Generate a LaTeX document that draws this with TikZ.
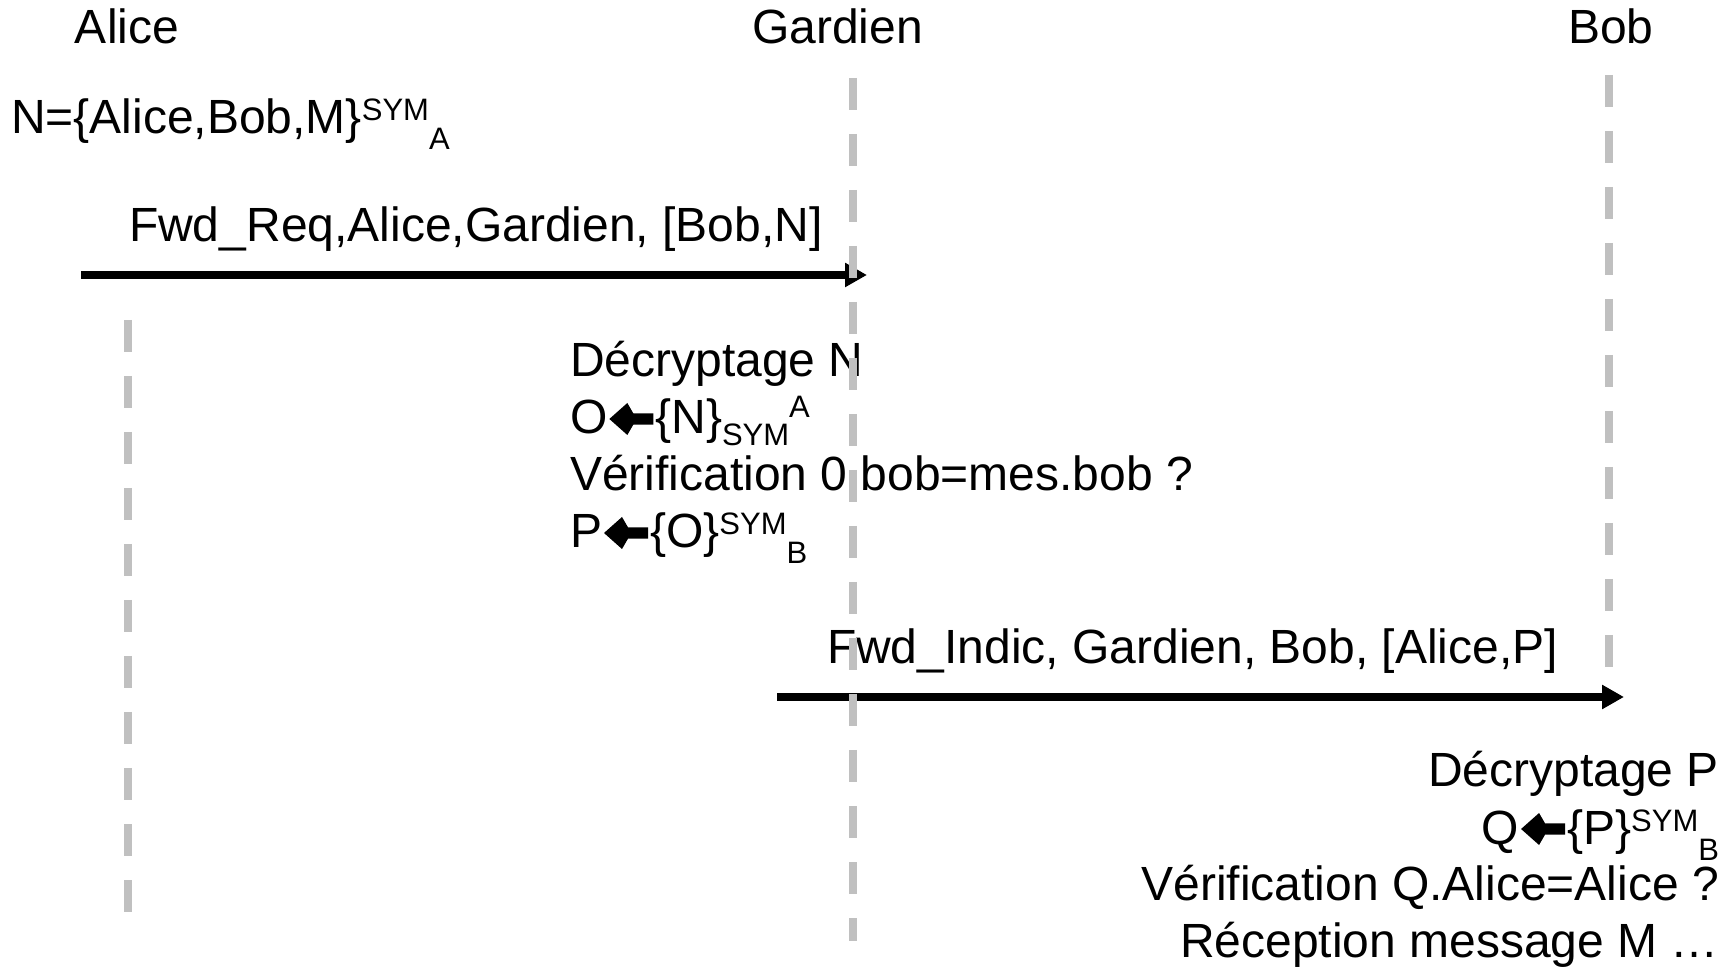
\documentclass[tikz,border=0pt]{standalone}
\usepackage{fontspec}
\setmainfont{Liberation Sans}
\usetikzlibrary{arrows.meta}
\definecolor{lifegray}{RGB}{192,192,192}
% thick black left arrow used as an assignment sign
\newcommand{\getsarrow}{\hspace{1pt}\tikz[baseline=0pt]\fill[black] (0pt,7.5pt) -- (9pt,15.5pt) -- (12pt,10.3pt) -- (22pt,10.3pt) -- (22pt,4.7pt) -- (12pt,4.7pt) -- (9pt,-0.5pt) -- cycle;\hspace{1pt}}
\newcommand{\smallfont}{\fontsize{15.5pt}{18pt}\selectfont}
\newcommand{\hiscript}[2][6.5pt]{\raisebox{#1}{\smallfont #2}}
\newcommand{\loscript}[2][-8pt]{\raisebox{#1}{\smallfont #2}}
\begin{document}
\begin{tikzpicture}[x=0.5pt,y=-0.5pt,
  txt/.style={inner sep=0pt,outer sep=0pt,font=\fontsize{24pt}{28.5pt}\selectfont},
  life/.style={draw=lifegray,line width=4pt,dash pattern=on 16pt off 12pt},
  msg/.style={draw=black,line width=4pt,-{Triangle[length=11pt,width=11.5pt]}}]
\fill[white] (0,0) rectangle (1725,966);

% actors
\node[txt,anchor=base west] (alice) at (75,44) {Alice};
\node[txt,anchor=base west] (gardien) at (752,44) {Gardien};
\node[txt,anchor=base west] (bob) at (1568,44) {Bob};

% Alice prepares the request
\node[txt,anchor=base west] (ninit) at (11,134) {N=\{Alice,Bob,M\}\hiscript{SYM}\loscript{A}};

% message 1
\node[txt,anchor=base west] (m1lbl) at (129,242) {Fwd\_Req,Alice,Gardien, [Bob,N]};
\coordinate (m1from) at (81,275);
\coordinate (m1to) at (867,275);
\draw[msg] (m1from) -- (m1to);

% processing by Gardien
\node[txt,anchor=base west] (g1) at (570,377) {Décryptage N};
\node[txt,anchor=base west] (g2) at (570,434) {O\getsarrow\{N\}\loscript[-6pt]{SYM}\hiscript[8pt]{A}};
\node[txt,anchor=base west] (g3) at (570,491) {Vérification 0 bob=mes.bob ?};
\node[txt,anchor=base west] (g4) at (570,548) {P\getsarrow\{O\}\hiscript{SYM}\loscript{B}};

% message 2
\node[txt,anchor=base west] (m2lbl) at (827,664) {Fwd\_Indic, Gardien, Bob, [Alice,P]};
\coordinate (m2from) at (777,697);
\coordinate (m2to) at (1624,697);
\draw[msg] (m2from) -- (m2to);

% processing by Bob
\node[txt,anchor=base east] (b1) at (1719,786) {Décryptage P};
\node[txt,anchor=base east] (b2) at (1719,844) {Q\getsarrow\{P\}\hiscript{SYM}\loscript{B}};
\node[txt,anchor=base east] (b3) at (1719,900) {Vérification Q.Alice=Alice ?};
\node[txt,anchor=base east] (b4) at (1719,957) {Réception message M …};

% lifelines, drawn over everything
\coordinate (aliceTop) at (127.5,320);
\coordinate (aliceBot) at (127.5,913);
\coordinate (gardTop) at (853,78);
\coordinate (gardBot) at (853,941);
\coordinate (bobTop) at (1609,75);
\coordinate (bobBot) at (1609,668);
\draw[life] (aliceTop) -- (aliceBot);
\draw[life] (gardTop) -- (gardBot);
\draw[life] (bobTop) -- (bobBot);
\end{tikzpicture}
\end{document}
